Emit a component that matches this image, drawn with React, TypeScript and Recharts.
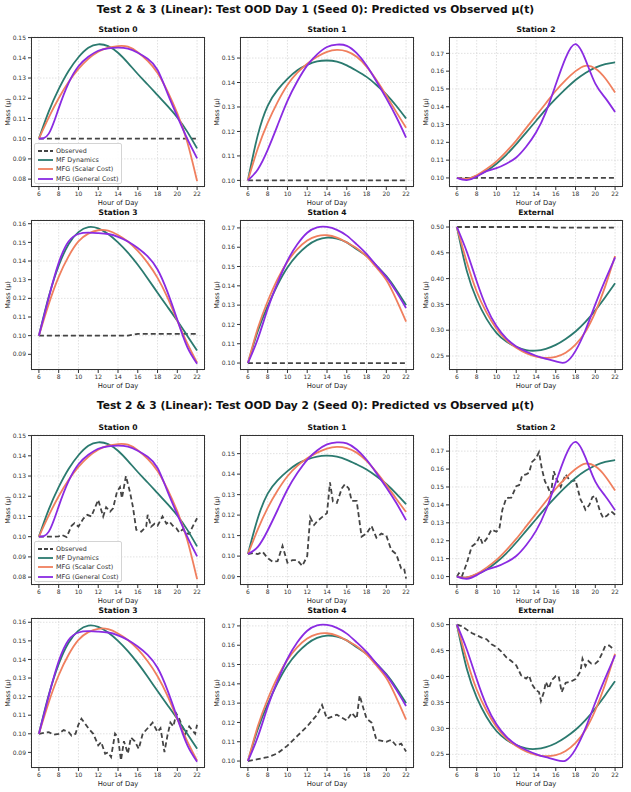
import { LineChart, Line, XAxis, YAxis, CartesianGrid } from "recharts";

const HOURS = [6, 7, 8, 9, 10, 11, 12, 13, 14, 15, 16, 17, 18, 19, 20, 21, 22];
const X_TICKS = [6, 8, 10, 12, 14, 16, 18, 20, 22];

const TICKS_A = [0.08, 0.09, 0.1, 0.11, 0.12, 0.13, 0.14, 0.15];
const TICKS_B = [0.1, 0.11, 0.12, 0.13, 0.14, 0.15];
const TICKS_C = [0.1, 0.11, 0.12, 0.13, 0.14, 0.15, 0.16, 0.17];
const TICKS_D = [0.09, 0.1, 0.11, 0.12, 0.13, 0.14, 0.15, 0.16];
const TICKS_E = [0.25, 0.3, 0.35, 0.4, 0.45, 0.5];
const TICKS_F = [0.09, 0.1, 0.11, 0.12, 0.13, 0.14, 0.15];

// model predictions, one value per hour
const S0_MF = [0.1, 0.1135, 0.1245, 0.1335, 0.1403, 0.145, 0.1467, 0.1458, 0.1425, 0.1375, 0.132, 0.1268, 0.1215, 0.1162, 0.1105, 0.1035, 0.0952];
const S0_SCALAR = [0.1, 0.1105, 0.12, 0.128, 0.1345, 0.1395, 0.143, 0.145, 0.1458, 0.1455, 0.1428, 0.1385, 0.1325, 0.1235, 0.1125, 0.0985, 0.079];
const S0_GENERAL = [0.1, 0.1025, 0.115, 0.1275, 0.1358, 0.1405, 0.1435, 0.1447, 0.145, 0.1445, 0.1425, 0.1395, 0.134, 0.1225, 0.111, 0.1, 0.0903];

const S1_MF = [0.1, 0.1185, 0.1305, 0.137, 0.1415, 0.145, 0.1472, 0.1486, 0.149, 0.1485, 0.147, 0.1448, 0.1423, 0.139, 0.1352, 0.1305, 0.1253];
const S1_SCALAR = [0.1, 0.113, 0.1235, 0.132, 0.139, 0.144, 0.1477, 0.1505, 0.1525, 0.1533, 0.1527, 0.1505, 0.1465, 0.141, 0.1347, 0.128, 0.1215];
const S1_GENERAL = [0.1, 0.1045, 0.1125, 0.1225, 0.1325, 0.1405, 0.147, 0.1515, 0.1545, 0.1555, 0.155, 0.152, 0.147, 0.1405, 0.1335, 0.126, 0.1175];

const S1D2_MF = [0.101, 0.1185, 0.1305, 0.137, 0.1415, 0.145, 0.1472, 0.1486, 0.149, 0.1485, 0.147, 0.1448, 0.1423, 0.139, 0.1352, 0.1305, 0.1253];
const S1D2_SCALAR = [0.101, 0.113, 0.1235, 0.132, 0.139, 0.144, 0.1477, 0.1505, 0.1525, 0.1533, 0.1527, 0.1505, 0.1465, 0.141, 0.1347, 0.128, 0.1215];
const S1D2_GENERAL = [0.101, 0.1045, 0.1125, 0.1225, 0.1325, 0.1405, 0.147, 0.1515, 0.1545, 0.1555, 0.155, 0.152, 0.147, 0.1405, 0.1335, 0.126, 0.1175];

const S2_MF = [0.1, 0.0995, 0.1012, 0.104, 0.108, 0.113, 0.119, 0.1255, 0.132, 0.1385, 0.1445, 0.15, 0.155, 0.159, 0.162, 0.164, 0.165];
const S2_SCALAR = [0.1, 0.0995, 0.1015, 0.105, 0.1093, 0.1148, 0.121, 0.128, 0.135, 0.142, 0.149, 0.155, 0.16, 0.163, 0.1615, 0.156, 0.148];
const S2_GENERAL = [0.1, 0.0988, 0.1008, 0.1038, 0.1055, 0.108, 0.1115, 0.1175, 0.1255, 0.137, 0.1525, 0.1675, 0.1752, 0.1665, 0.153, 0.145, 0.137];

const S3_MF = [0.1, 0.121, 0.1375, 0.149, 0.1555, 0.1582, 0.1575, 0.1545, 0.15, 0.1445, 0.138, 0.1307, 0.123, 0.1155, 0.108, 0.1, 0.092];
const S3_SCALAR = [0.1, 0.117, 0.1315, 0.1425, 0.1505, 0.1547, 0.1565, 0.1563, 0.154, 0.1505, 0.1455, 0.139, 0.131, 0.1205, 0.108, 0.096, 0.0855];
const S3_GENERAL = [0.1, 0.1205, 0.139, 0.1505, 0.1545, 0.1552, 0.155, 0.1545, 0.153, 0.1505, 0.147, 0.1425, 0.1355, 0.1235, 0.1085, 0.094, 0.085];

const S4_MF = [0.1, 0.1165, 0.1295, 0.1405, 0.1495, 0.156, 0.1608, 0.1638, 0.165, 0.1645, 0.1625, 0.159, 0.1555, 0.1505, 0.145, 0.138, 0.13];
const S4_SCALAR = [0.1, 0.118, 0.132, 0.1435, 0.1525, 0.159, 0.1635, 0.1658, 0.1662, 0.165, 0.1625, 0.1595, 0.1552, 0.1495, 0.143, 0.133, 0.1215];
const S4_GENERAL = [0.1, 0.1125, 0.128, 0.1415, 0.153, 0.1615, 0.1675, 0.1703, 0.1705, 0.169, 0.166, 0.1615, 0.1565, 0.1505, 0.1445, 0.137, 0.1285];

const EXT_MF = [0.5, 0.415, 0.36, 0.322, 0.295, 0.278, 0.268, 0.2615, 0.2605, 0.264, 0.2715, 0.283, 0.2975, 0.316, 0.3385, 0.364, 0.391];
const EXT_SCALAR = [0.5, 0.432, 0.375, 0.334, 0.303, 0.281, 0.266, 0.2555, 0.249, 0.2465, 0.2485, 0.2565, 0.272, 0.297, 0.335, 0.385, 0.444];
const EXT_GENERAL = [0.5, 0.452, 0.395, 0.344, 0.308, 0.284, 0.2685, 0.2585, 0.2505, 0.2445, 0.2395, 0.238, 0.26, 0.3, 0.35, 0.397, 0.441];

// observed, day 1
const OBS1_FLAT = [0.1, 0.1, 0.1, 0.1, 0.1, 0.1, 0.1, 0.1, 0.1, 0.1, 0.1, 0.1, 0.1, 0.1, 0.1, 0.1, 0.1];
const OBS1_S3 = [0.1, 0.1, 0.1, 0.1, 0.1, 0.1, 0.1, 0.1, 0.1, 0.1, 0.101, 0.101, 0.101, 0.101, 0.101, 0.101, 0.101];
const OBS1_EXT = [0.5, 0.5, 0.5, 0.5, 0.5, 0.5, 0.5, 0.5, 0.5, 0.5, 0.4988, 0.4988, 0.4988, 0.4988, 0.4988, 0.4988, 0.4988];

// observed, day 2
const OBS2_S0_T = [6, 7.5, 8, 8.3, 8.8, 9.3, 9.6, 10, 10.5, 10.9, 11.3, 12, 12.5, 12.8, 13.2, 13.5, 13.9, 14.2, 14.4, 14.8, 15.2, 15.5, 15.85, 16.35, 16.85, 17, 17.35, 17.7, 18, 18.5, 18.9, 19.2, 19.55, 19.9, 20.2, 20.55, 20.9, 21.2, 21.55, 22];
const OBS2_S0 = [0.1, 0.1, 0.1002, 0.1009, 0.0998, 0.1054, 0.1067, 0.105, 0.109, 0.1108, 0.11, 0.1182, 0.11, 0.1146, 0.1124, 0.114, 0.1223, 0.1245, 0.119, 0.13, 0.1223, 0.115, 0.1034, 0.1025, 0.105, 0.1108, 0.105, 0.1064, 0.1054, 0.11, 0.1064, 0.1075, 0.1054, 0.1042, 0.1021, 0.1037, 0.1017, 0.1014, 0.105, 0.1091];

const OBS2_S1_T = [6, 6.5, 7, 7.5, 8, 8.5, 9, 9.5, 10, 10.5, 11, 11.5, 12, 12.3, 12.7, 13, 13.5, 14, 14.3, 14.6, 15, 15.5, 15.8, 16.2, 16.5, 17, 17.5, 18, 18.5, 19, 19.5, 20, 20.5, 21, 21.5, 21.8, 22];
const OBS2_S1 = [0.101, 0.1015, 0.101, 0.102, 0.099, 0.0973, 0.0975, 0.105, 0.0968, 0.098, 0.098, 0.0952, 0.1, 0.119, 0.1152, 0.117, 0.119, 0.121, 0.136, 0.1266, 0.126, 0.133, 0.135, 0.133, 0.127, 0.127, 0.1095, 0.111, 0.1147, 0.109, 0.111, 0.11, 0.103, 0.101, 0.094, 0.094, 0.089];

const OBS2_S2_T = [6, 6.2, 6.5, 7, 7.5, 8, 8.3, 8.6, 9, 9.5, 10, 10.3, 10.6, 11, 11.5, 12, 12.3, 12.6, 13, 13.3, 13.6, 14, 14.3, 14.6, 14.9, 15.2, 15.5, 15.8, 16.1, 16.5, 17, 17.5, 18, 18.5, 18.8, 19, 19.4, 19.7, 20, 20.5, 20.8, 21.2, 21.5, 21.7, 22];
const OBS2_S2 = [0.1, 0.1019, 0.1, 0.1075, 0.1168, 0.119, 0.1224, 0.1183, 0.121, 0.1262, 0.125, 0.127, 0.1373, 0.1439, 0.144, 0.1504, 0.151, 0.1564, 0.157, 0.158, 0.164, 0.166, 0.1694, 0.16, 0.1532, 0.15, 0.1457, 0.1588, 0.154, 0.15, 0.157, 0.153, 0.1537, 0.143, 0.14, 0.1373, 0.14, 0.1443, 0.145, 0.136, 0.1327, 0.134, 0.136, 0.136, 0.1345];

const OBS2_S3_T = [6, 7, 7.5, 8, 8.5, 9, 9.3, 9.7, 10, 10.3, 10.6, 11, 11.5, 12, 12.3, 12.7, 13, 13.3, 13.7, 14, 14.3, 14.6, 15, 15.3, 15.7, 16.1, 16.5, 17, 17.5, 18, 18.3, 18.7, 19, 19.3, 19.6, 19.9, 20.2, 20.5, 20.8, 21.2, 21.5, 21.8, 22];
const OBS2_S3 = [0.1, 0.1009, 0.0995, 0.1, 0.102, 0.101, 0.099, 0.1, 0.105, 0.1081, 0.106, 0.103, 0.1, 0.0938, 0.0956, 0.0893, 0.09, 0.0875, 0.1001, 0.098, 0.0857, 0.096, 0.0893, 0.098, 0.096, 0.0919, 0.1, 0.103, 0.106, 0.101, 0.103, 0.0902, 0.099, 0.106, 0.104, 0.1108, 0.108, 0.104, 0.1, 0.104, 0.102, 0.1, 0.1049];

const OBS2_S4_T = [6, 7, 8, 9, 10, 11, 12, 13, 13.5, 14, 15, 16, 16.5, 17, 17.3, 17.7, 18, 18.5, 19, 20, 20.5, 21, 21.5, 22];
const OBS2_S4 = [0.1, 0.101, 0.102, 0.104, 0.108, 0.113, 0.118, 0.124, 0.129, 0.122, 0.124, 0.121, 0.125, 0.122, 0.134, 0.127, 0.122, 0.12, 0.111, 0.11, 0.111, 0.108, 0.109, 0.105];

const OBS2_EXT_T = [6, 6.5, 7, 7.5, 8, 8.5, 9, 9.5, 10, 10.5, 11, 11.5, 12, 12.5, 13, 13.3, 13.6, 14, 14.3, 14.5, 14.8, 15, 15.3, 15.6, 16, 16.3, 16.6, 17, 17.5, 18, 18.5, 18.7, 19, 19.3, 19.6, 20, 20.3, 20.7, 21, 21.4, 21.7, 22];
const OBS2_EXT = [0.5, 0.497, 0.4904, 0.484, 0.4794, 0.475, 0.472, 0.462, 0.457, 0.448, 0.437, 0.43, 0.4216, 0.4023, 0.396, 0.402, 0.385, 0.3734, 0.37, 0.3528, 0.37, 0.3895, 0.377, 0.393, 0.401, 0.4, 0.37, 0.388, 0.39, 0.395, 0.41, 0.4345, 0.42, 0.43, 0.425, 0.425, 0.43, 0.445, 0.4589, 0.46, 0.455, 0.456];

const COLOR_OBS = "#444444";
const COLOR_MF = "#2b7a6f";
const COLOR_SCALAR = "#f07f5e";
const COLOR_GENERAL = "#8a2be2";

const FONT = "'DejaVu Sans', sans-serif";
const PLOT_W = 174;
const PLOT_H = 150;
const YW = 32;
const XH = 26;
const MT = 6;
const LW = 1.8;

const COLS = [31, 240, 449];
const ROWS = [37, 220, 435, 618];

const toPoints = (t: number[], v: number[]) => t.map((h, i) => ({ h, v: v[i] }));

const YLabel = ({ viewBox }: any) => {
  const x = viewBox.x + 9;
  const y = viewBox.y + viewBox.height / 2;
  return (
    <text x={x} y={y} transform={`rotate(-90, ${x}, ${y})`} textAnchor="middle" dominantBaseline="central" fontSize={6.5} fill="#222" fontFamily={FONT}>
      Mass (μ)
    </text>
  );
};

const LegendBox = () => {
  const items = [
    { name: "Observed", color: COLOR_OBS, dash: "4 2" },
    { name: "MF Dynamics", color: COLOR_MF },
    { name: "MFG (Scalar Cost)", color: COLOR_SCALAR },
    { name: "MFG (General Cost)", color: COLOR_GENERAL },
  ];
  return (
    <div
      style={{
        position: "absolute",
        left: YW + 3,
        top: MT + 106,
        width: 88,
        height: 41,
        background: "rgba(255,255,255,0.85)",
        border: "1px solid #d4d4d4",
        borderRadius: 2,
        boxSizing: "border-box",
        padding: "2px 0 0 3px",
      }}
    >
      {items.map((it) => (
        <div key={it.name} style={{ display: "flex", alignItems: "center", height: 9.3, fontSize: 6.4, color: "#333", fontFamily: FONT, whiteSpace: "nowrap" }}>
          <svg width={15} height={4} style={{ marginRight: 3 }}>
            <line x1={0} y1={2} x2={15} y2={2} stroke={it.color} strokeWidth={LW} strokeDasharray={it.dash} />
          </svg>
          {it.name}
        </div>
      ))}
    </div>
  );
};

type PanelProps = {
  left: number;
  top: number;
  title: string;
  domain: number[];
  ticks: number[];
  mf: number[];
  scalar: number[];
  general: number[];
  obsT: number[];
  obsV: number[];
  legend?: boolean;
};

const Panel = ({ left, top, title, domain, ticks, mf, scalar, general, obsT, obsV, legend }: PanelProps) => (
  <div style={{ position: "absolute", left: left - YW, top: top - MT, width: YW + PLOT_W + 4, height: MT + PLOT_H + XH }}>
    <LineChart width={YW + PLOT_W + 4} height={MT + PLOT_H + XH} margin={{ top: MT, right: 4, bottom: 0, left: 0 }}>
      <CartesianGrid stroke="#cccccc" strokeDasharray="1.5 1.5" strokeWidth={0.6} />
      <XAxis
        type="number"
        dataKey="h"
        domain={[5.2, 22.8]}
        ticks={X_TICKS}
        allowDataOverflow
        axisLine={false}
        tickSize={3}
        tickLine={{ stroke: "#333" }}
        tick={{ fontSize: 6, fill: "#333", fontFamily: FONT }}
        height={XH}
        label={{ value: "Hour of Day", position: "insideBottom", offset: 8, fontSize: 6.8, fill: "#222", fontFamily: FONT }}
      />
      <YAxis
        type="number"
        domain={domain}
        ticks={ticks}
        allowDataOverflow
        axisLine={false}
        width={YW}
        tickSize={3}
        tickLine={{ stroke: "#333" }}
        tick={{ fontSize: 6, fill: "#333", fontFamily: FONT }}
        tickFormatter={(v: number) => v.toFixed(2)}
        label={<YLabel />}
      />
      <Line data={toPoints(obsT, obsV)} dataKey="v" type="linear" stroke={COLOR_OBS} strokeWidth={LW} strokeDasharray="5 3" dot={false} isAnimationActive={false} />
      <Line data={toPoints(HOURS, mf)} dataKey="v" type="natural" stroke={COLOR_MF} strokeWidth={LW} dot={false} isAnimationActive={false} />
      <Line data={toPoints(HOURS, scalar)} dataKey="v" type="natural" stroke={COLOR_SCALAR} strokeWidth={LW} dot={false} isAnimationActive={false} />
      <Line data={toPoints(HOURS, general)} dataKey="v" type="natural" stroke={COLOR_GENERAL} strokeWidth={LW} dot={false} isAnimationActive={false} />
    </LineChart>
    <div style={{ position: "absolute", left: YW, top: MT, width: PLOT_W, height: PLOT_H, border: "1.4px solid #333", boxSizing: "border-box", pointerEvents: "none" }} />
    <div style={{ position: "absolute", left: YW, top: MT - 12, width: PLOT_W, textAlign: "center", fontSize: 7.6, fontWeight: "bold", fontFamily: FONT, color: "#111" }}>
      {title}
    </div>
    {legend && <LegendBox />}
  </div>
);

const MainTitle = ({ top, text }: { top: number; text: string }) => (
  <div style={{ position: "absolute", left: 0, top, width: 631, textAlign: "center", fontSize: 10.7, fontWeight: "bold", fontFamily: FONT, color: "#111" }}>
    {text}
  </div>
);

export default function App() {
  return (
    <div style={{ position: "absolute", left: 0, top: 0, width: 631, height: 792, background: "#fff", overflow: "hidden" }}>
      <MainTitle top={3} text="Test 2 & 3 (Linear): Test OOD Day 1 (Seed 0): Predicted vs Observed μ(t)" />
      <Panel left={COLS[0]} top={ROWS[0]} title="Station 0" domain={[0.0761, 0.1503]} ticks={TICKS_A} mf={S0_MF} scalar={S0_SCALAR} general={S0_GENERAL} obsT={HOURS} obsV={OBS1_FLAT} legend />
      <Panel left={COLS[1]} top={ROWS[0]} title="Station 1" domain={[0.0973, 0.1586]} ticks={TICKS_B} mf={S1_MF} scalar={S1_SCALAR} general={S1_GENERAL} obsT={HOURS} obsV={OBS1_FLAT} />
      <Panel left={COLS[2]} top={ROWS[0]} title="Station 2" domain={[0.0949, 0.1792]} ticks={TICKS_C} mf={S2_MF} scalar={S2_SCALAR} general={S2_GENERAL} obsT={HOURS} obsV={OBS1_FLAT} />
      <Panel left={COLS[0]} top={ROWS[1]} title="Station 3" domain={[0.0816, 0.162]} ticks={TICKS_D} mf={S3_MF} scalar={S3_SCALAR} general={S3_GENERAL} obsT={HOURS} obsV={OBS1_S3} />
      <Panel left={COLS[1]} top={ROWS[1]} title="Station 4" domain={[0.0964, 0.1741]} ticks={TICKS_C} mf={S4_MF} scalar={S4_SCALAR} general={S4_GENERAL} obsT={HOURS} obsV={OBS1_FLAT} />
      <Panel left={COLS[2]} top={ROWS[1]} title="External" domain={[0.2229, 0.5136]} ticks={TICKS_E} mf={EXT_MF} scalar={EXT_SCALAR} general={EXT_GENERAL} obsT={HOURS} obsV={OBS1_EXT} />

      <MainTitle top={399} text="Test 2 & 3 (Linear): Test OOD Day 2 (Seed 0): Predicted vs Observed μ(t)" />
      <Panel left={COLS[0]} top={ROWS[2]} title="Station 0" domain={[0.0761, 0.1503]} ticks={TICKS_A} mf={S0_MF} scalar={S0_SCALAR} general={S0_GENERAL} obsT={OBS2_S0_T} obsV={OBS2_S0} legend />
      <Panel left={COLS[1]} top={ROWS[2]} title="Station 1" domain={[0.0859, 0.1591]} ticks={TICKS_F} mf={S1D2_MF} scalar={S1D2_SCALAR} general={S1D2_GENERAL} obsT={OBS2_S1_T} obsV={OBS2_S1} />
      <Panel left={COLS[2]} top={ROWS[2]} title="Station 2" domain={[0.0953, 0.179]} ticks={TICKS_C} mf={S2_MF} scalar={S2_SCALAR} general={S2_GENERAL} obsT={OBS2_S2_T} obsV={OBS2_S2} />
      <Panel left={COLS[0]} top={ROWS[3]} title="Station 3" domain={[0.0816, 0.1623]} ticks={TICKS_D} mf={S3_MF} scalar={S3_SCALAR} general={S3_GENERAL} obsT={OBS2_S3_T} obsV={OBS2_S3} />
      <Panel left={COLS[1]} top={ROWS[3]} title="Station 4" domain={[0.0964, 0.1741]} ticks={TICKS_C} mf={S4_MF} scalar={S4_SCALAR} general={S4_GENERAL} obsT={OBS2_S4_T} obsV={OBS2_S4} />
      <Panel left={COLS[2]} top={ROWS[3]} title="External" domain={[0.2237, 0.5128]} ticks={TICKS_E} mf={EXT_MF} scalar={EXT_SCALAR} general={EXT_GENERAL} obsT={OBS2_EXT_T} obsV={OBS2_EXT} />
    </div>
  );
}
